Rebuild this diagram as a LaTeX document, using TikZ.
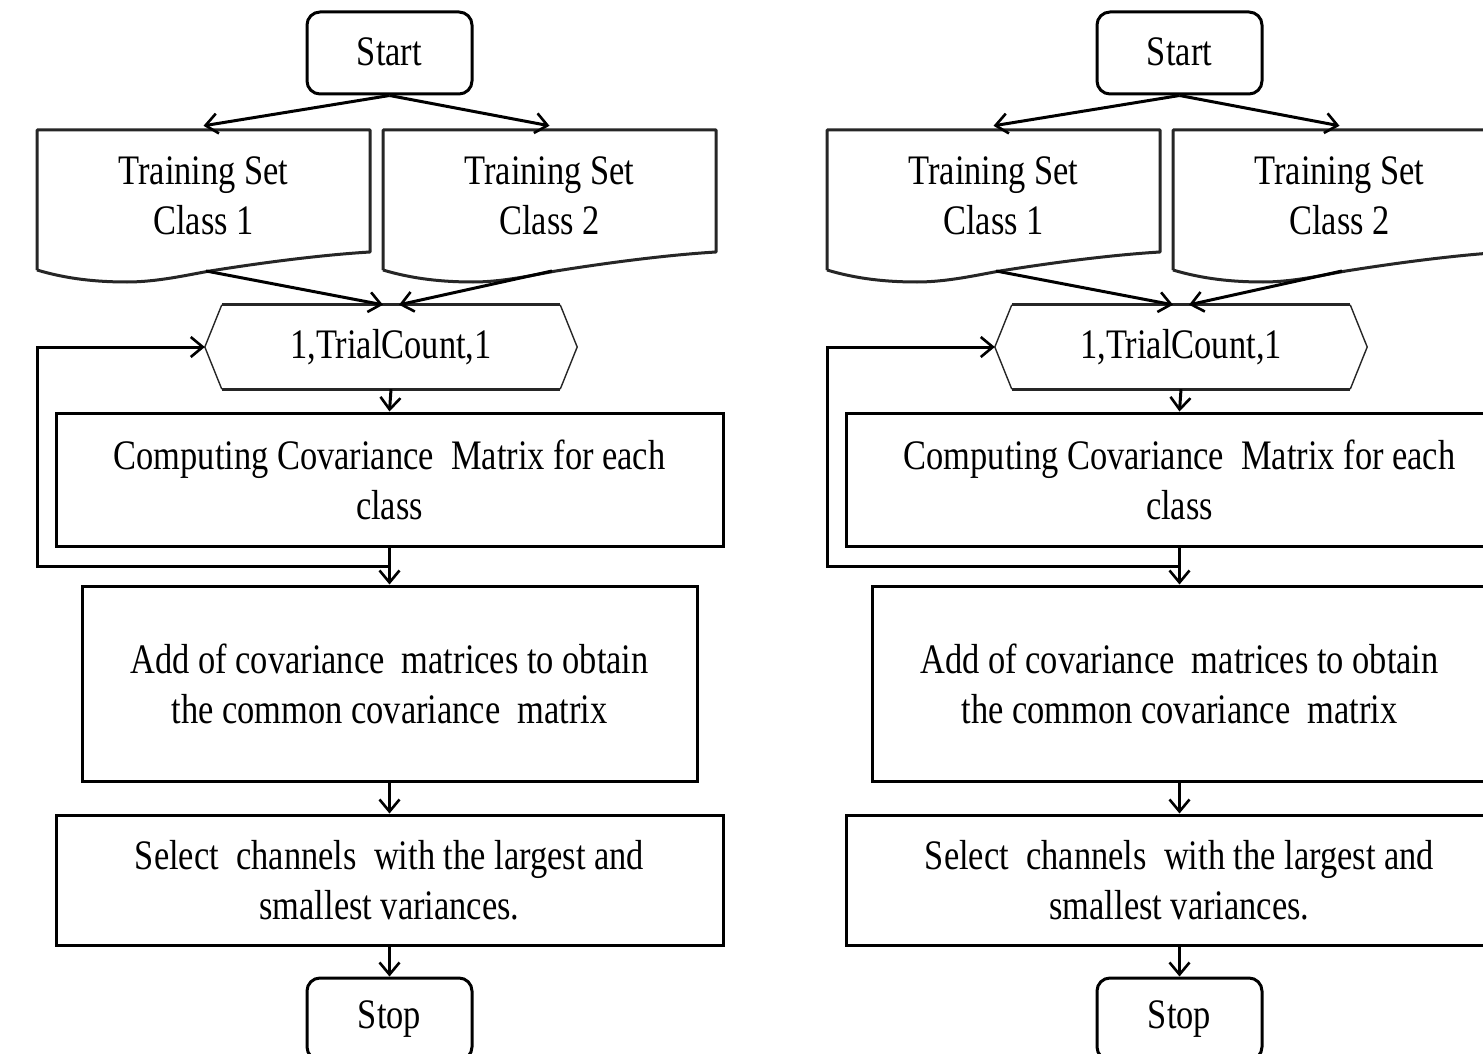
\documentclass[tikz,border=0pt]{standalone}
\usepackage{fontspec}
\setmainfont{Liberation Serif}[FakeStretch=0.82]
\usetikzlibrary{arrows.meta,calc}
\tikzset{
  every node/.style={font=\fontsize{42}{50}\selectfont},
  proc/.style={draw=black, line width=3pt, rectangle, align=center, inner sep=0pt},
  term/.style={proc, rounded corners=13pt, minimum width=165pt, minimum height=82pt},
  holder/.style={rectangle, inner sep=0pt, align=center},
  outline/.style={draw=black!85, line width=3pt, line join=round},
  thin outline/.style={draw=black!85, line width=1.4pt},
  conn/.style={draw=black, line width=3pt, -{Straight Barb[length=12pt,width=20pt,line width=2.6pt]}},
}
\newcommand\docshape[1]{%
  \draw[outline, shift={(#1,0)}] (0,270) -- (0,130) -- (333,130) -- (333,252)
    .. controls (283,255) and (223,263) .. (173,271)
    .. controls (150,275) and (120,282) .. (90,282)
    .. controls (60,282) and (30,279) .. (0,270);}
\newcommand\flowchart{%
  \node[term] (start) at (389.5,53) {\raisebox{3pt}{Start}};
  \node[holder, minimum width=333pt, minimum height=140pt] (c1) at (203.5,196) {Training Set\\Class 1};
  \node[holder, minimum width=333pt, minimum height=140pt] (c2) at (549.5,196) {Training Set\\Class 2};
  \docshape{37}
  \docshape{383}
  \coordinate (c1b) at (206,271);
  \coordinate (c2b) at (552,271);
  \node[holder, minimum width=372pt, minimum height=84pt] (hex) at (391,347) {1,TrialCount,1};
  \draw[outline] ([xshift=17pt]hex.north west) -- ([xshift=-17pt]hex.north east)
                 ([xshift=17pt]hex.south west) -- ([xshift=-17pt]hex.south east);
  \draw[thin outline] ([xshift=17pt]hex.north west) -- (hex.west) -- ([xshift=17pt]hex.south west)
                      ([xshift=-17pt]hex.north east) -- (hex.east) -- ([xshift=-17pt]hex.south east);
  \node[proc, minimum width=667pt, minimum height=133pt] (comp) at (389.5,479.5)
    {Computing Covariance\ \ Matrix for each\\class};
  \node[proc, minimum width=615pt, minimum height=195pt] (add) at (389.5,683.5)
    {Add of covariance\ \ matrices to obtain\\the common covariance\ \ matrix};
  \node[proc, minimum width=667pt, minimum height=130pt] (sel) at (389.5,880)
    {Select\ \ channels\ \ with the largest and\\smallest variances.};
  \node[term] (stop) at (389.5,1019) {Stop};
  \coordinate (j) at ($(comp.south)!0.5!(add.north)$);
  \draw[conn] (start.south) -- (c1.north);
  \draw[conn] (start.south) -- (c2.north);
  \draw[conn] (c1b) -- ([xshift=-8pt]hex.north);
  \draw[conn] (c2b) -- ([xshift=8pt]hex.north);
  \draw[conn] (hex.south) -- (comp.north);
  \draw[conn] (comp.south) -- (add.north);
  \draw[conn, line join=miter] (j) -- ++(-352,0) |- (hex.west);
  \draw[conn] (add.south) -- (sel.north);
  \draw[conn] (sel.south) -- (stop.north);
}
\begin{document}
\begin{tikzpicture}[x=1pt, y=-1pt]
  \useasboundingbox (0,0) rectangle (1483,1054);
  \fill[white] (0,0) rectangle (1483,1054);
  \clip (0,0) rectangle (1483,1054);
  \begin{scope}[name prefix=L-]
    \flowchart
  \end{scope}
  \begin{scope}[xshift=790pt, name prefix=R-]
    \flowchart
  \end{scope}
\end{tikzpicture}
\end{document}
